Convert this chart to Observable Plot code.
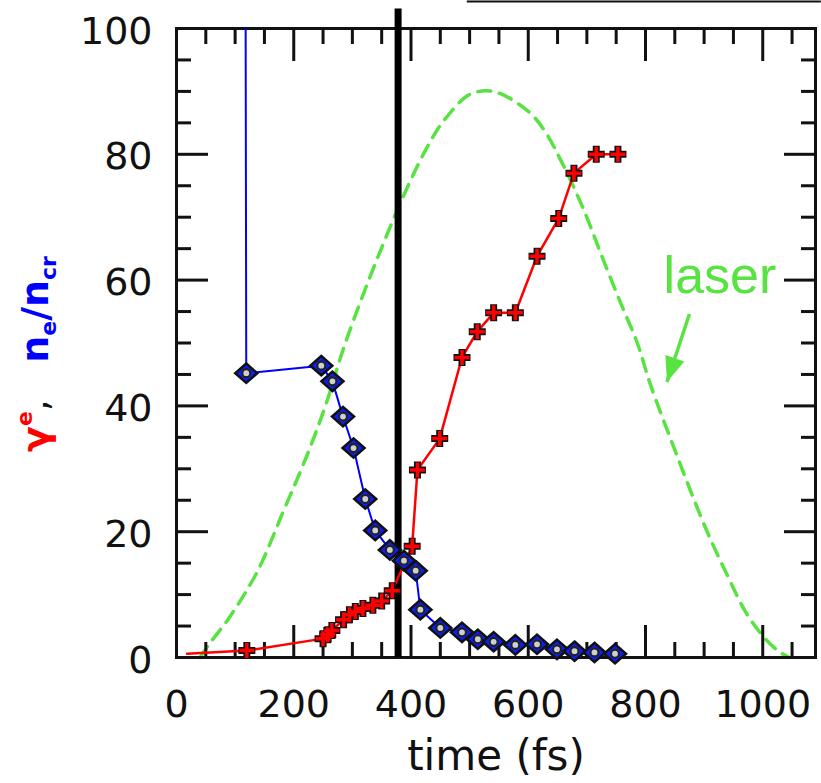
<!DOCTYPE html>
<html>
<head>
<meta charset="utf-8">
<script src="https://cdn.jsdelivr.net/npm/d3@7"></script>
<script src="https://cdn.jsdelivr.net/npm/@observablehq/plot@0.6"></script>
<style>
  html, body { margin: 0; padding: 0; background: #fff; }
  #chart svg { display: block; }
</style>
</head>
<body>
<div id="chart"></div>
<script>
// ---- data ----
const redT  = [18, 120, 250, 258, 265, 285, 295, 305, 318, 335, 350, 368, 402, 411, 449, 487, 513, 541, 578, 615, 652, 678, 716, 753];
const redV  = [0.6, 1.1, 3.0, 3.6, 4.3, 6.0, 6.8, 7.3, 7.8, 8.3, 9.0, 10.6, 17.7, 29.8, 34.8, 47.7, 51.8, 54.8, 54.8, 63.8, 69.8, 77.0, 80.0, 80.0];

const blueT = [117, 119, 247, 266, 284, 302, 322, 339, 364, 388, 408, 416, 450, 487, 514, 541, 578, 615, 649, 679, 713, 748];
const blueV = [150, 45.2, 46.4, 43.9, 38.3, 33.3, 25.2, 20.2, 17.1, 15.4, 13.8, 7.6, 4.7, 4.0, 2.9, 2.5, 2.0, 2.1, 1.3, 1.0, 0.8, 0.6];

const laserT = [40, 58, 89, 137, 183, 222, 254, 288, 348, 405, 439, 459, 500, 540, 598, 626, 658, 695, 726, 757, 786, 808, 850, 902, 940, 973, 1007, 1030, 1045];
const laserV = [0, 2.4, 6.2, 13.5, 23.4, 32, 40, 50, 64.7, 77, 83, 85.7, 89.5, 90, 87, 84, 78.6, 71.1, 63.7, 56.5, 50, 43.5, 33, 20.7, 13, 6.9, 2.7, 0.8, 0];

const xMajor = [0, 200, 400, 600, 800, 1000];
const xMinor = [50, 100, 150, 250, 300, 350, 450, 500, 550, 650, 700, 750, 850, 900, 950, 1050];
const yMajor = [0, 20, 40, 60, 80, 100];
const yMinor = [5, 10, 15, 25, 30, 35, 45, 50, 55, 65, 70, 75, 85, 90, 95];

const markerTime = [378];            // thick vertical line
const laserLabel = ["laser"];
const labelPos = {x: 927, y: 60.6};
const arrowFrom = {x: 875, y: 54.6};
const arrowTo = {x: 836.6, y: 43.8};
const topLine = [{x1: 496, x2: 1100, y: 104.3}];

const red = redT.map((t, i) => ({t, v: redV[i], i}));
const blue = blueT.map((t, i) => ({t, v: blueV[i], i}));
const laser = laserT.map((t, i) => ({t, v: laserV[i]}));

// ---- custom symbols ----
const plusSym = {draw(ctx, size) { const r = Math.sqrt(size / Math.PI);
  ctx.moveTo(-r, 0); ctx.lineTo(r, 0); ctx.moveTo(0, -r); ctx.lineTo(0, r); }};
const diamondSym = {draw(ctx, size) { const r = Math.sqrt(size / Math.PI);
  ctx.moveTo(0, -r * 0.92); ctx.lineTo(r * 1.05, 0); ctx.lineTo(0, r * 0.92); ctx.lineTo(-r * 1.05, 0); ctx.closePath(); }};
const headSym = {draw(ctx, size) { const r = Math.sqrt(size / Math.PI);
  ctx.moveTo(0, 0); ctx.lineTo(-r * 0.8, -r * 2); ctx.lineTo(r * 0.8, -r * 2); ctx.closePath(); }};

const GREEN = "#58e342";
const FONT = "DejaVu Sans";

const plot = Plot.plot({
  width: 821,
  height: 783,
  marginLeft: 176,
  marginRight: 6,
  marginTop: 28,
  marginBottom: 126,
  x: {domain: [0, 1090]},
  y: {domain: [0, 100]},
  style: {background: "#fff", color: "#111"},
  marks: [
    // laser envelope
    Plot.line(laser, {x: "t", y: "v", stroke: GREEN, strokeWidth: 3.5, strokeDasharray: "13,9", curve: "catmull-rom"}),
    // ticks (inward, all four sides)
    Plot.axisX({anchor: "bottom", ticks: xMajor, tickSize: -32, strokeWidth: 3, fill: "none", label: null}),
    Plot.axisX({anchor: "bottom", ticks: xMinor, tickSize: -15, strokeWidth: 3, fill: "none", label: null}),
    Plot.axisX({anchor: "top", ticks: xMajor, tickSize: -32, strokeWidth: 3, fill: "none", label: null}),
    Plot.axisX({anchor: "top", ticks: xMinor, tickSize: -15, strokeWidth: 3, fill: "none", label: null}),
    Plot.axisY({anchor: "left", ticks: yMajor, tickSize: -32, strokeWidth: 3, fill: "none", label: null}),
    Plot.axisY({anchor: "left", ticks: yMinor, tickSize: -15, strokeWidth: 3, fill: "none", label: null}),
    Plot.axisY({anchor: "right", ticks: yMajor, tickSize: -32, strokeWidth: 3, fill: "none", label: null}),
    Plot.axisY({anchor: "right", ticks: yMinor, tickSize: -15, strokeWidth: 3, fill: "none", label: null}),
    // tick labels
    Plot.axisX({anchor: "bottom", ticks: xMajor, tickSize: 0, tickPadding: 33, fontSize: 38, fontFamily: FONT, tickFormat: d => String(d), label: null}),
    Plot.axisY({anchor: "left", ticks: yMajor, tickSize: 0, tickPadding: 24, dy: 3, fontSize: 38, fontFamily: FONT, tickFormat: d => String(d), label: null}),
    Plot.frame({stroke: "#111", strokeWidth: 3}),
    // x-axis title
    Plot.text(["time (fs)"], {frameAnchor: "bottom", dy: 99, fontSize: 42, fontFamily: FONT, fill: "#111", lineAnchor: "middle"}),
    // decorative top line
    Plot.ruleY(topLine, {y: "y", x1: "x1", x2: "x2", stroke: "#111", strokeWidth: 2}),
    // thick vertical line
    Plot.ruleX(markerTime, {y1: 0, y2: 103.1, stroke: "#000", strokeWidth: 7}),
    // series lines
    Plot.line(blue, {x: "t", y: "v", stroke: "#0000ff", strokeWidth: 2, clip: true}),
    Plot.line(red, {x: "t", y: "v", stroke: "#ff0000", strokeWidth: 2.5}),
    // blue diamonds
    Plot.dot(blue, {filter: d => d.i > 0, x: "t", y: "v", symbol: diamondSym, r: 10.5, fill: "#0a1eff", stroke: "#111", strokeWidth: 2.5}),
    Plot.dot(blue, {filter: d => d.i > 0, x: "t", y: "v", r: 4, fill: "#cfcfcf", stroke: "#222", strokeWidth: 2.2}),
    // red crosses
    Plot.dot(red, {filter: d => d.i > 0, x: "t", y: "v", symbol: plusSym, r: 8.5, fill: "none", stroke: "#111", strokeWidth: 7}),
    Plot.dot(red, {filter: d => d.i > 0, x: "t", y: "v", symbol: plusSym, r: 7.5, fill: "none", stroke: "#ff0000", strokeWidth: 3.5}),
    // laser annotation
    Plot.text(laserLabel, {x: labelPos.x, y: labelPos.y, fontSize: 52, fontFamily: "Liberation Sans", fill: GREEN, lineAnchor: "middle"}),
    Plot.link([{}], {x1: arrowFrom.x, y1: arrowFrom.y, x2: arrowTo.x, y2: arrowTo.y, stroke: GREEN, strokeWidth: 3.5}),
    Plot.dot([{}], {x: arrowTo.x, y: arrowTo.y, symbol: headSym, r: 12.5, rotate: 18.5, fill: GREEN, stroke: "none"})
  ]
});

document.getElementById("chart").appendChild(plot);

// multi-coloured y-axis title
const svg = d3.select(plot);
const t = svg.append("text")
  .attr("transform", "translate(48,354) rotate(-90)")
  .attr("text-anchor", "middle")
  .attr("font-family", FONT)
  .attr("font-size", 38);
t.append("tspan").attr("fill", "#ff0000").attr("font-weight", "bold").text("γ");
t.append("tspan").attr("fill", "#ff0000").attr("font-weight", "bold").attr("font-size", 22).attr("dy", -16).text("e");
t.append("tspan").attr("fill", "#111").attr("dy", 16).text(",\u00a0\u00a0\u00a0");
t.append("tspan").attr("fill", "#0000ff").attr("font-weight", "bold").text("n");
t.append("tspan").attr("fill", "#0000ff").attr("font-weight", "bold").attr("font-size", 22).attr("dy", 8).text("e");
t.append("tspan").attr("fill", "#0000ff").attr("font-weight", "bold").attr("dy", -8).text("/n");
t.append("tspan").attr("fill", "#0000ff").attr("font-weight", "bold").attr("font-size", 22).attr("dy", 8).text("cr");
</script>
</body>
</html>
